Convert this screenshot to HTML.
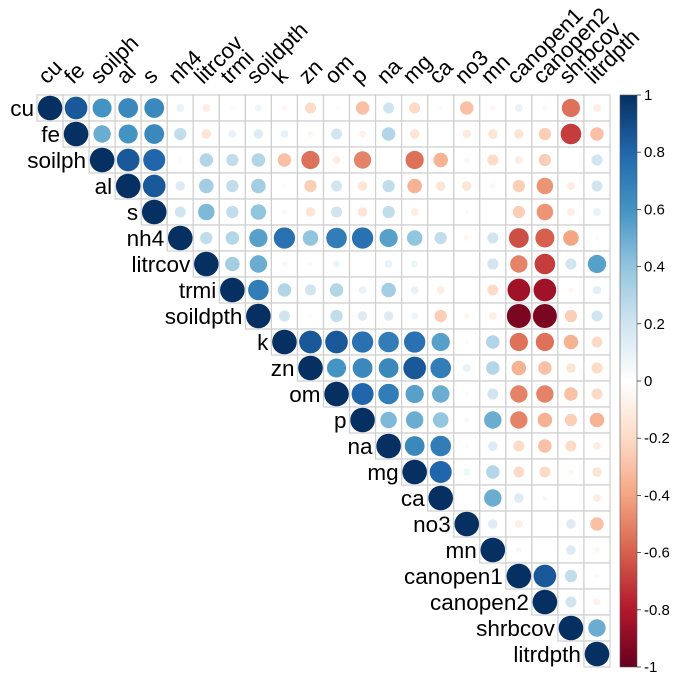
<!DOCTYPE html>
<html><head><meta charset="utf-8"><style>
body{margin:0;background:#fff;}
svg text{font-family:"Liberation Sans",Arial,sans-serif;}
</style></head><body>
<svg id="chart" width="685" height="677" xmlns="http://www.w3.org/2000/svg"></svg>
<script>
const variables=["cu","fe","soilph","al","s","nh4","litrcov","trmi","soildpth","k","zn","om","p","na","mg","ca","no3","mn","canopen1","canopen2","shrbcov","litrdpth"];
// upper-triangle rows (starting at diagonal)
const corrRows=[
[1,.85,.6,.65,.65,.1,-.1,.02,.08,-.05,-.2,.02,-.3,.2,-.2,.03,-.3,-.05,.1,-.05,-.55,-.1],
[1,.5,.6,.65,.25,-.15,.1,.15,.1,-.05,.2,-.08,.3,-.15,.01,-.12,-.15,-.15,-.25,-.7,-.3],
[1,.85,.8,-.03,.3,.25,.3,-.3,-.55,-.1,-.5,.02,-.55,-.35,-.05,-.2,-.1,-.25,.01,.2],
[1,.85,.15,.35,.25,.35,.02,-.25,.2,-.15,.25,-.35,-.15,-.15,-.05,-.25,-.45,-.1,.2],
[1,.2,.45,.25,.4,.05,-.15,.2,-.15,.25,-.1,.01,.03,.01,-.25,-.45,-.1,.1],
[1,.25,.3,.55,.75,.4,.7,.75,.55,.4,.25,-.05,.2,-.65,-.6,-.4,-.03],
[1,.35,.5,.05,.03,.08,.01,.1,.08,.02,.01,.2,-.5,-.7,.2,.55],
[1,.7,.3,.2,.3,.1,.35,.1,-.1,.01,-.2,-.85,-.85,-.05,.12],
[1,.2,.02,.25,.15,.15,.08,-.25,-.05,-.1,-.95,-.95,-.25,.2],
[1,.85,.85,.75,.7,.75,.55,.02,.3,-.55,-.55,-.35,-.2],
[1,.6,.65,.65,.85,.7,.1,.3,-.35,-.3,-.15,-.2],
[1,.8,.7,.55,.5,-.03,.2,-.5,-.5,-.3,-.2],
[1,.45,.5,.4,.05,.5,-.5,-.35,-.25,-.35],
[1,.65,.7,-.02,.15,-.2,-.3,-.2,-.1],
[1,.8,.08,.3,-.2,-.2,-.05,-.15],
[1,.01,.5,.15,.05,.01,-.1],
[1,.15,-.1,.01,.15,-.3],
[1,.05,.01,.15,-.05],
[1,.85,.25,-.03],
[1,.2,-.08],
[1,.5],
[1]];
const colorbarTicks=["1","0.8","0.6","0.4","0.2","0","-0.2","-0.4","-0.6","-0.8","-1"];

const NS="http://www.w3.org/2000/svg";
const svg=document.getElementById('chart');
const X0=37,Y0=95,CW=(610-37)/22,CH=(667-95)/22;
const pal=[[103,0,31],[178,24,43],[214,96,77],[244,165,130],[253,219,199],[255,255,255],[209,229,240],[146,197,222],[67,147,195],[33,102,172],[5,48,97]];
function col(v){const t=(v+1)/2*10;const i=Math.min(9,Math.floor(t));const f=t-i;const a=pal[i],b=pal[i+1];
return `rgb(${a.map((c,k)=>Math.round(c+(b[k]-c)*f)).join(',')})`;}
function mk(tag,attrs,parent){const e=document.createElementNS(NS,tag);for(const k in attrs)e.setAttribute(k,attrs[k]);(parent||svg).appendChild(e);return e;}
const xOf=j=>X0+j*CW, yOf=i=>Y0+i*CH;

corrRows.forEach((row,i)=>{
  row.forEach((v,k)=>{
    const j=i+k;
    const r=mk('rect',{x:xOf(j),y:yOf(i),width:CW,height:CH,fill:'#fff',stroke:'#cfcfcf','stroke-width':1.2});
    
    
  });
});
corrRows.forEach((row,i)=>{
  row.forEach((v,k)=>{
    const j=i+k;
    const c=mk('circle',{cx:xOf(j)+CW/2,cy:yOf(i)+CH/2,r:12.3*Math.sqrt(Math.abs(v)),fill:col(v)});
    
    
  });
});
variables.forEach((name,i)=>{
  const t=mk('text',{x:xOf(i)-3,y:yOf(i)+CH/2+8,'text-anchor':'end','font-size':22.5,fill:'#000'});
  t.textContent=name;
  
  
  const cx=xOf(i)+CW/2-3, cy=Y0-10;
  const u=mk('text',{x:cx,y:cy,'font-size':22,fill:'#000',transform:`rotate(-45 ${cx} ${cy})`});
  u.textContent=name;
  
  
});
// colorbar
const defs=mk('defs',{});
const g=mk('linearGradient',{id:'cb',x1:0,y1:0,x2:0,y2:1},defs);
for(let s=0;s<=20;s++){const v=1-s/10;mk('stop',{offset:(s/20),'stop-color':col(v)},g);}
const cb=mk('rect',{x:620,y:Y0,width:17,height:667-Y0,fill:'url(#cb)',stroke:'#555','stroke-width':0.6});


colorbarTicks.forEach((lab,k)=>{
  const y=Y0+k*(667-Y0)/10;
  mk('line',{x1:637,x2:641,y1:y,y2:y,stroke:'#333','stroke-width':0.8});
  const t=mk('text',{x:644,y:y+5,'font-size':15,fill:'#000'});
  t.textContent=lab;
  
  
});
</script>
</body></html>
